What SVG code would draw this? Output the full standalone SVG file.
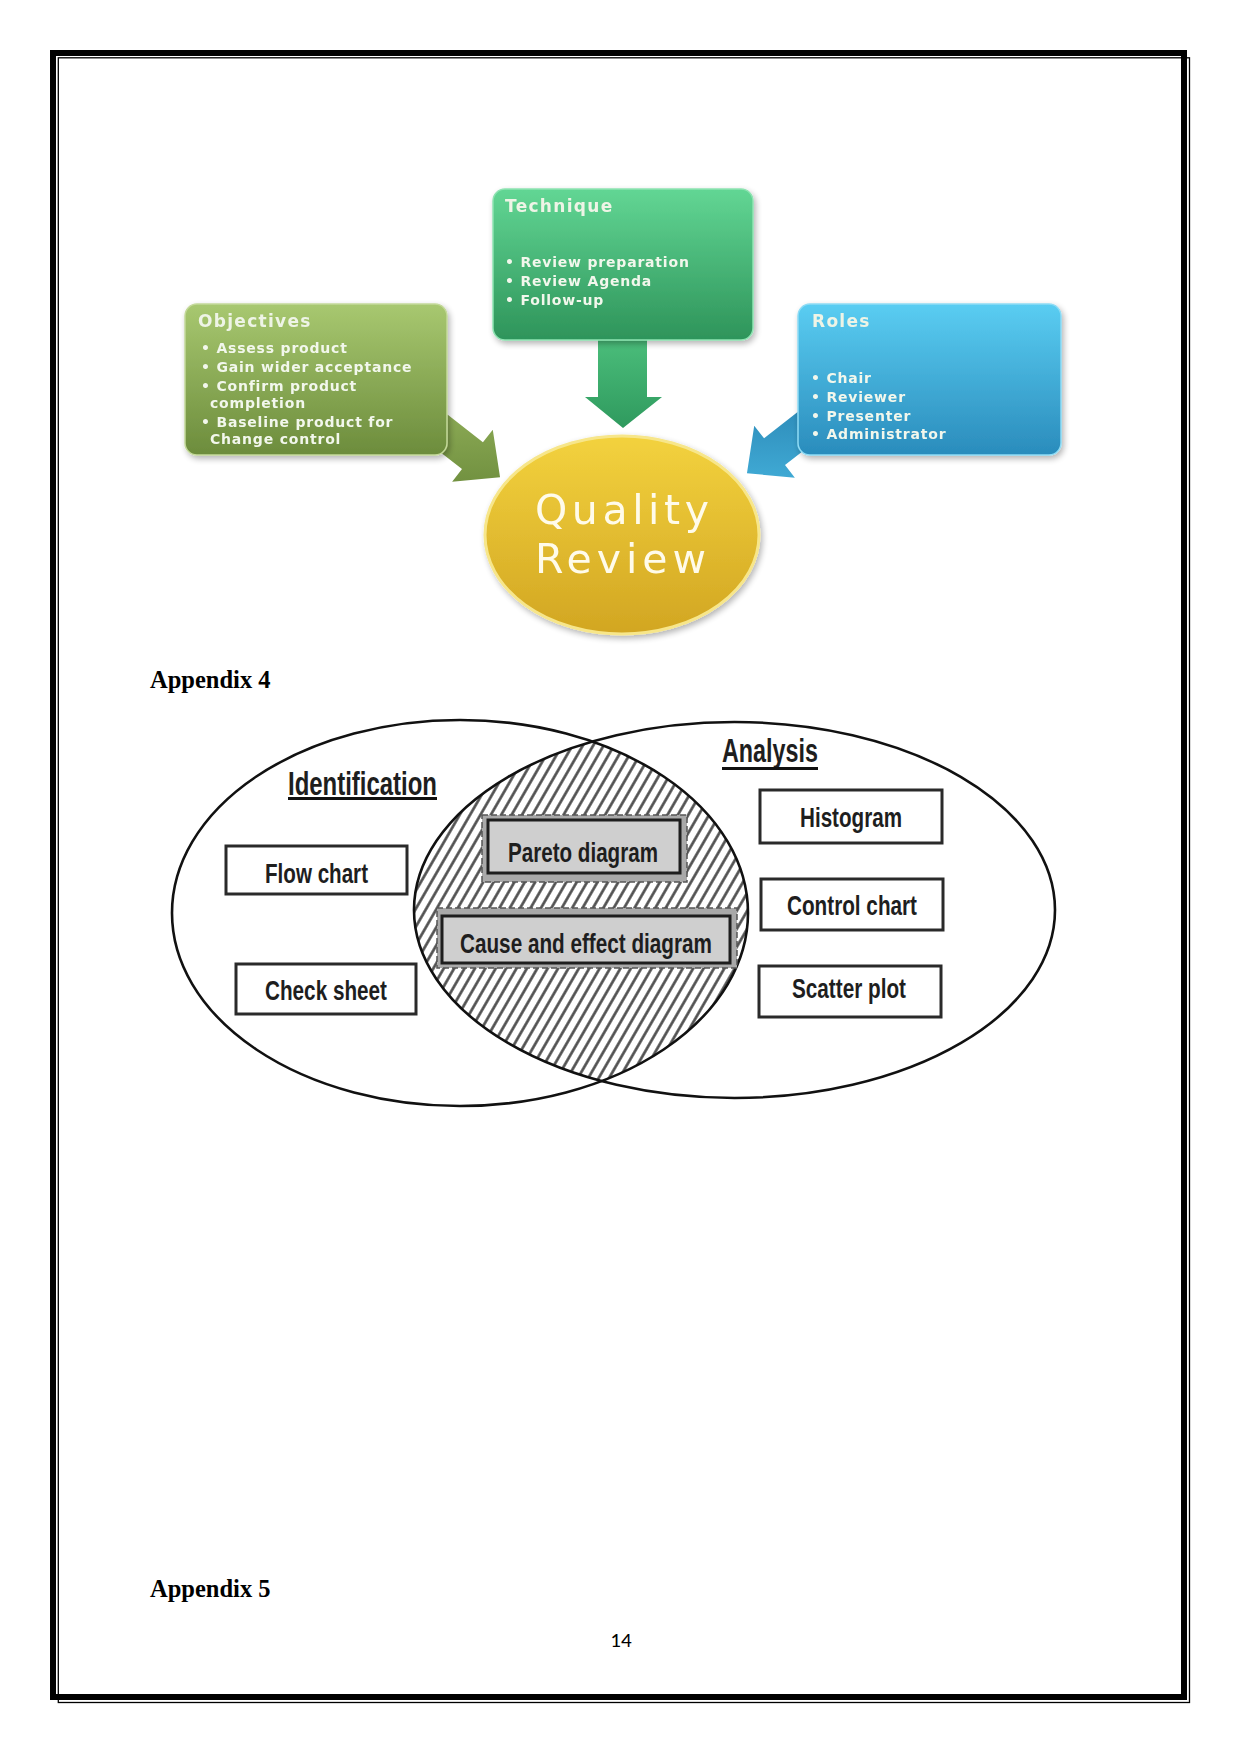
<svg xmlns="http://www.w3.org/2000/svg" width="1241" height="1754" viewBox="0 0 1241 1754">
<defs>
<style>
.ttl{font-family:"DejaVu Sans","Verdana",sans-serif;font-size:17px;fill:#eef4e6;letter-spacing:1.3px;font-weight:bold}
.itm{font-family:"DejaVu Sans","Verdana",sans-serif;font-size:14px;fill:#f2f7ec;letter-spacing:0.8px;font-weight:bold}
.qr{font-family:"DejaVu Sans","Verdana",sans-serif;font-size:41px;fill:#fffbea;letter-spacing:4px}
.vt{font-family:"Liberation Sans Narrow","Liberation Sans",Arial,sans-serif;font-size:28px;fill:#1e1e1e;font-weight:bold}
.vh{font-family:"Liberation Sans Narrow","Liberation Sans",Arial,sans-serif;font-size:33px;fill:#1e1e1e;font-weight:bold}
.wb{fill:#ffffff;stroke:#2a2a2a;stroke-width:3}
.gb{fill:#cfcfcf;stroke:#1e1e1e;stroke-width:3}
.go{fill:#a9a9a9;stroke:#555;stroke-width:1.5;stroke-dasharray:6 3}
.app{font-family:"Liberation Serif","Times New Roman",serif;font-size:24.5px;font-weight:bold;fill:#000}
</style>
<linearGradient id="gObj" x1="0" y1="0" x2="0" y2="1"><stop offset="0" stop-color="#a8c870"/><stop offset="1" stop-color="#6c8c3c"/></linearGradient>
<linearGradient id="gTec" x1="0" y1="0" x2="0" y2="1"><stop offset="0" stop-color="#62d694"/><stop offset="1" stop-color="#2e945a"/></linearGradient>
<linearGradient id="gRol" x1="0" y1="0" x2="0" y2="1"><stop offset="0" stop-color="#5acdf2"/><stop offset="1" stop-color="#2a8cbc"/></linearGradient>
<linearGradient id="gQR" x1="0" y1="0" x2="0" y2="1"><stop offset="0" stop-color="#f3d23e"/><stop offset="1" stop-color="#d2a622"/></linearGradient>
<linearGradient id="aObj" x1="0" y1="0" x2="1" y2="1"><stop offset="0" stop-color="#8fad58"/><stop offset="1" stop-color="#6a8a3a"/></linearGradient>
<linearGradient id="aTec" x1="0" y1="0" x2="0" y2="1"><stop offset="0" stop-color="#4cbf7c"/><stop offset="1" stop-color="#2f9a5e"/></linearGradient>
<linearGradient id="aRol" x1="1" y1="0" x2="0" y2="1"><stop offset="0" stop-color="#45b2dc"/><stop offset="1" stop-color="#2b88b6"/></linearGradient>
<pattern id="hatch" width="9" height="9" patternUnits="userSpaceOnUse" patternTransform="rotate(30)">
<line x1="4.5" y1="0" x2="4.5" y2="9" stroke="#4a4a4a" stroke-width="2.6"/>
</pattern>
<clipPath id="clipL"><ellipse cx="460" cy="913" rx="288" ry="193"/></clipPath>
<filter id="sh" x="-10%" y="-10%" width="130%" height="130%"><feGaussianBlur in="SourceAlpha" stdDeviation="3"/><feOffset dx="2" dy="3"/><feComponentTransfer><feFuncA type="linear" slope="0.3"/></feComponentTransfer><feMerge><feMergeNode/><feMergeNode in="SourceGraphic"/></feMerge></filter>
</defs>
<rect width="1241" height="1754" fill="#ffffff"/>
<g id="page-border" fill="none" stroke="#000">
<rect x="53" y="53" width="1131" height="1644" stroke-width="6"/>
<rect x="58.3" y="57.8" width="1131.2" height="1644.7" stroke-width="1.3"/>
</g>

<g id="connectors">
<polygon points="0,-17 45,-17 45,-33 80,0 45,33 45,17 0,17" fill="url(#aObj)" transform="translate(437,428) rotate(38)"/>
<polygon points="598,335 647,335 647,397 662,397 623,428 585,397 598,397" fill="url(#aTec)"/>
<polygon points="0,-17 45,-17 45,-33 80,0 45,33 45,17 0,17" fill="url(#aRol)" transform="translate(810,424) rotate(142)"/>
</g>

<g id="node-objectives" filter="url(#sh)">
<rect x="185" y="304" width="262" height="151" rx="12" fill="url(#gObj)" stroke="#c4d99a" stroke-width="1.5"/>
<text class="ttl" x="198" y="327">Objectives</text>
<text class="itm" x="201" y="353">• Assess product</text>
<text class="itm" x="201" y="372">• Gain wider acceptance</text>
<text class="itm" x="201" y="391">• Confirm product</text>
<text class="itm" x="210" y="408">completion</text>
<text class="itm" x="201" y="427">• Baseline product for</text>
<text class="itm" x="210" y="444">Change control</text>
</g>

<g id="node-technique" filter="url(#sh)">
<rect x="493" y="189" width="260" height="151" rx="12" fill="url(#gTec)" stroke="#8fe3b2" stroke-width="1.5"/>
<text class="ttl" x="505" y="212">Technique</text>
<text class="itm" x="505" y="267">• Review preparation</text>
<text class="itm" x="505" y="286">• Review Agenda</text>
<text class="itm" x="505" y="305">• Follow-up</text>
</g>

<g id="node-roles" filter="url(#sh)">
<rect x="798" y="304" width="263" height="151" rx="12" fill="url(#gRol)" stroke="#8fdcf5" stroke-width="1.5"/>
<text class="ttl" x="812" y="327">Roles</text>
<text class="itm" x="811" y="383">• Chair</text>
<text class="itm" x="811" y="402">• Reviewer</text>
<text class="itm" x="811" y="421">• Presenter</text>
<text class="itm" x="811" y="439">• Administrator</text>
</g>

<g id="node-quality-review" filter="url(#sh)">
<ellipse cx="622" cy="535" rx="137" ry="99" fill="url(#gQR)" stroke="#f7e68a" stroke-width="3"/>
<text class="qr" x="535" y="524" textLength="178">Quality</text>
<text class="qr" x="535" y="573" textLength="175">Review</text>
</g>

<text class="app" x="150" y="688">Appendix 4</text>

<g id="venn">
<g clip-path="url(#clipL)">
<ellipse cx="734.5" cy="910" rx="320.5" ry="188" fill="url(#hatch)"/>
</g>
<ellipse cx="460" cy="913" rx="288" ry="193" fill="none" stroke="#111" stroke-width="2.6"/>
<ellipse cx="734.5" cy="910" rx="320.5" ry="188" fill="none" stroke="#111" stroke-width="2.6"/>
</g>

<g id="label-identification">
<text class="vh" x="288" y="795" textLength="149" lengthAdjust="spacingAndGlyphs">Identification</text>
<rect x="288" y="797" width="149" height="3" fill="#111"/>
</g>
<g id="label-analysis">
<text class="vh" x="722" y="762" textLength="96" lengthAdjust="spacingAndGlyphs">Analysis</text>
<rect x="722" y="767" width="96" height="3" fill="#111"/>
</g>

<g id="node-flow-chart">
<rect class="wb" x="226" y="846" width="181" height="48"/>
<text class="vt" x="265" y="883" textLength="103" lengthAdjust="spacingAndGlyphs">Flow chart</text>
</g>
<g id="node-check-sheet">
<rect class="wb" x="236" y="964" width="180" height="50"/>
<text class="vt" x="265" y="1000" textLength="122" lengthAdjust="spacingAndGlyphs">Check sheet</text>
</g>
<g id="node-pareto">
<rect class="go" x="482" y="815" width="205" height="67"/>
<rect class="gb" x="488" y="820" width="192" height="53"/>
<text class="vt" x="508" y="862" textLength="150" lengthAdjust="spacingAndGlyphs">Pareto diagram</text>
</g>
<g id="node-cause-effect">
<rect class="go" x="437" y="908" width="300" height="60"/>
<rect class="gb" x="442" y="916" width="288" height="47"/>
<text class="vt" x="460" y="953" textLength="252" lengthAdjust="spacingAndGlyphs">Cause and effect diagram</text>
</g>
<g id="node-histogram">
<rect class="wb" x="760" y="790" width="182" height="53"/>
<text class="vt" x="800" y="827" textLength="102" lengthAdjust="spacingAndGlyphs">Histogram</text>
</g>
<g id="node-control-chart">
<rect class="wb" x="761" y="879" width="182" height="51"/>
<text class="vt" x="787" y="915" textLength="130" lengthAdjust="spacingAndGlyphs">Control chart</text>
</g>
<g id="node-scatter-plot">
<rect class="wb" x="759" y="966" width="182" height="51"/>
<text class="vt" x="792" y="998" textLength="114" lengthAdjust="spacingAndGlyphs">Scatter plot</text>
</g>

<text class="app" x="150" y="1597">Appendix 5</text>
<text x="621" y="1647" text-anchor="middle" font-family="Carlito,'Liberation Sans',Arial,sans-serif" font-size="21" fill="#000">14</text>
</svg>
